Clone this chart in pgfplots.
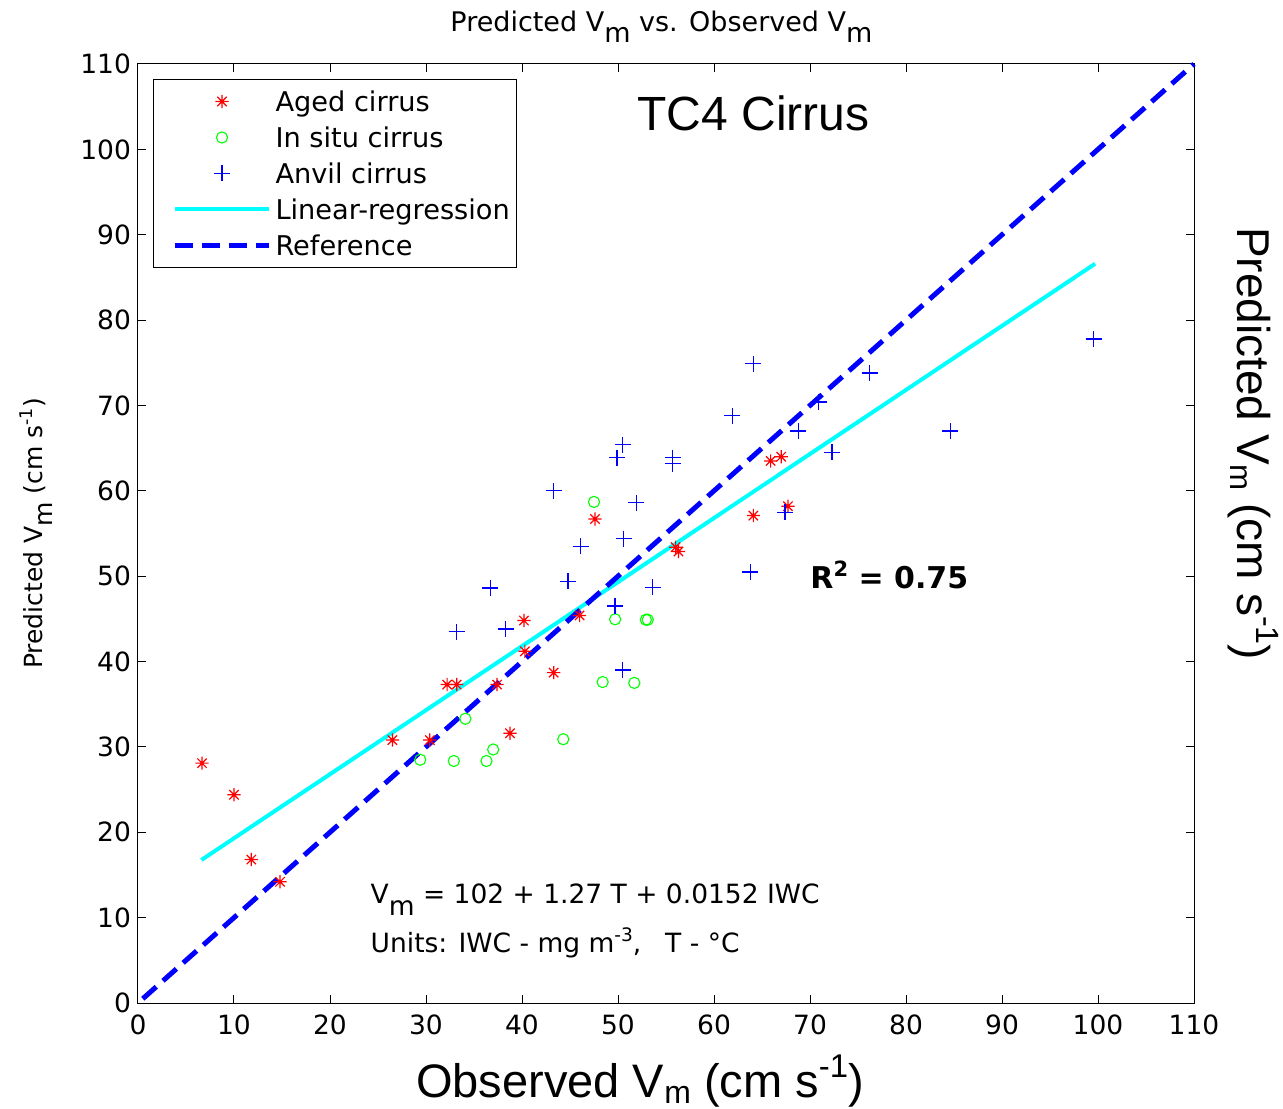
\documentclass[border=0pt]{standalone}
\usepackage{fontspec}
\setmainfont{DejaVu Sans}
\newfontfamily\arial{Liberation Sans}
\usepackage{graphicx}
\usepackage{pgfplots}
\pgfplotsset{compat=1.18}

\definecolor{mred}{RGB}{255,0,0}
\definecolor{mgreen}{RGB}{0,255,0}
\definecolor{mblue}{RGB}{0,0,255}
\definecolor{mcyan}{RGB}{0,255,255}

% MATLAB-like '*' marker (plus and cross)
\pgfdeclareplotmark{mstar}{%
  \pgfpathmoveto{\pgfqpoint{-\pgfplotmarksize}{0pt}}\pgfpathlineto{\pgfqpoint{\pgfplotmarksize}{0pt}}%
  \pgfpathmoveto{\pgfqpoint{0pt}{-\pgfplotmarksize}}\pgfpathlineto{\pgfqpoint{0pt}{\pgfplotmarksize}}%
  \pgfpathmoveto{\pgfqpoint{-0.707\pgfplotmarksize}{-0.707\pgfplotmarksize}}\pgfpathlineto{\pgfqpoint{0.707\pgfplotmarksize}{0.707\pgfplotmarksize}}%
  \pgfpathmoveto{\pgfqpoint{-0.707\pgfplotmarksize}{0.707\pgfplotmarksize}}\pgfpathlineto{\pgfqpoint{0.707\pgfplotmarksize}{-0.707\pgfplotmarksize}}%
  \pgfusepathqstroke}

\newcommand{\lsub}[1]{\raisebox{-0.38em}{#1}}
\newcommand{\esub}[1]{\raisebox{-0.45em}{#1}}
\newcommand{\bsub}[1]{\raisebox{-0.14em}{\scalebox{0.68}{#1}}}
\newcommand{\lsup}[1]{\raisebox{0.42em}{\scalebox{0.7}{#1}}}

\begin{document}
\begin{tikzpicture}
\begin{axis}[
  scale only axis,
  width=528pt, height=469.5pt,
  xmin=0, xmax=110, ymin=0, ymax=110,
  xtick distance=10, ytick distance=10,
  tick align=inside, major tick length=4pt,
  axis line style={line width=0.5pt},
  every tick/.style={black, line width=0.5pt},
  /pgf/number format/assume math mode=true,
  tick label style={font=\fontsize{13.25}{16}\selectfont},
  xticklabel style={yshift=-2.5pt},
  clip=false,
  xlabel={\arial Observed V\bsub{m} (cm s\lsup{-1})},
  xlabel style={at={(0.4754,0)}, anchor=base, inner sep=0pt, yshift=-47pt, font=\fontsize{23.5}{27}\selectfont},
  legend cell align=left,
  legend image code/.code={%
    \path (-6pt,0pt); \path (49pt,0pt);
    \draw[mark repeat=2, mark phase=2, #1] plot coordinates {(0pt,0pt) (23.5pt,0pt) (47pt,0pt)};},
  legend style={at={(0,1)}, anchor=north west, xshift=7.5pt, yshift=-7.5pt,
    draw=black, line width=0.5pt, inner xsep=3.5pt, inner ysep=2pt, row sep=0pt,
    nodes={inner sep=0pt, text height=14pt, text depth=4pt, font=\fontsize{13.6}{16}\selectfont}},
]
\addplot[only marks, mark=mstar, mark size=3.3pt, color=mred, mark options={draw=mred, line width=0.6pt}] coordinates {
(6.67,28.1)(10,24.4)(11.8,16.8)(14.8,14.2)(26.5,30.8)(30.4,30.8)(32.2,37.3)
(33.2,37.3)(37.4,37.3)(38.75,31.6)(40.2,44.8)(40.3,41.2)(43.3,38.7)(46.0,45.4)
(47.6,56.7)(56.0,53.4)(56.3,52.9)(64.1,57.1)(65.9,63.5)(67.0,64.0)(67.7,58.2)};
\addlegendentry{Aged cirrus}
\addplot[only marks, mark=o, mark size=2.8pt, color=mgreen, mark options={draw=mgreen, line width=0.55pt}] coordinates {
(29.4,28.5)(32.9,28.35)(36.3,28.35)(37.0,29.7)(34.1,33.3)(44.3,30.9)
(48.4,37.6)(51.7,37.5)(49.7,44.95)(52.9,44.9)(53.1,44.9)(47.5,58.7)};
\addlegendentry{In situ cirrus}
\addplot[only marks, mark=+, mark size=4pt, color=mblue, mark options={draw=mblue, line width=0.65pt}] coordinates {
(33.2,43.5)(36.7,48.6)(38.3,43.8)(43.3,60.0)(44.8,49.4)(46.1,53.5)(49.7,46.5)
(49.9,63.9)(50.5,65.4)(50.5,39.0)(50.6,54.4)(51.9,58.6)(53.6,48.7)(55.7,63.9)
(55.7,63.2)(61.9,68.8)(63.8,50.5)(64.1,74.9)(67.4,57.5)(68.8,67.0)(70.9,70.4)
(72.3,64.5)(76.2,73.8)(84.6,67.0)(99.55,77.8)};
\addlegendentry{Anvil cirrus}
\addplot[color=mcyan, line width=2pt] coordinates {(6.6,16.75)(99.7,86.6)};
\addlegendentry{Linear-regression}
\addplot[color=mblue, line width=2.5pt, dash pattern=on 9pt off 4.5pt] coordinates {(0.5,0.5)(110,110)};
\addlegendentry{Reference}

\node[anchor=base, inner sep=0pt, font=\fontsize{13.5}{16}\selectfont] at ([yshift=16pt]rel axis cs:0.4957,1) {Predicted V\lsub{m} vs. Observed V\lsub{m}};
\node[anchor=base west, inner sep=0pt, font=\arial\fontsize{24}{28}\selectfont] at (axis cs:52,102.2) {TC4 Cirrus};
\node[anchor=base west, inner sep=0pt, font=\bfseries\fontsize{15}{18}\selectfont] at (axis cs:70,48.5) {R\lsup{2} = 0.75};
\node[anchor=base west, inner sep=0pt, font=\fontsize{13.25}{16}\selectfont] at (axis cs:24.2,11.6) {V\esub{m} = 102 + 1.27 T + 0.0152 IWC};
\node[anchor=base west, inner sep=0pt, font=\fontsize{13.25}{16}\selectfont] at (axis cs:24.2,5.86) {Units: IWC - mg m\lsup{-3},\hspace{0.9em}T - °C};
\node[rotate=90, anchor=base, inner sep=0pt, font=\fontsize{12.5}{15}\selectfont] at ([xshift=-47.5pt]rel axis cs:0,0.5) {Predicted V\lsub{m} (cm s\lsup{-1})};
\node[rotate=-90, anchor=base, inner sep=0pt, font=\arial\fontsize{23}{27}\selectfont] at ([xshift=21.5pt]rel axis cs:1,0.5958) {Predicted V\bsub{m} (cm s\lsup{-1})};
\path (rel axis cs:0,0) ++(-69pt,-52.5pt) rectangle ++(641.5pt,554pt);
\end{axis}
\end{tikzpicture}
\end{document}
